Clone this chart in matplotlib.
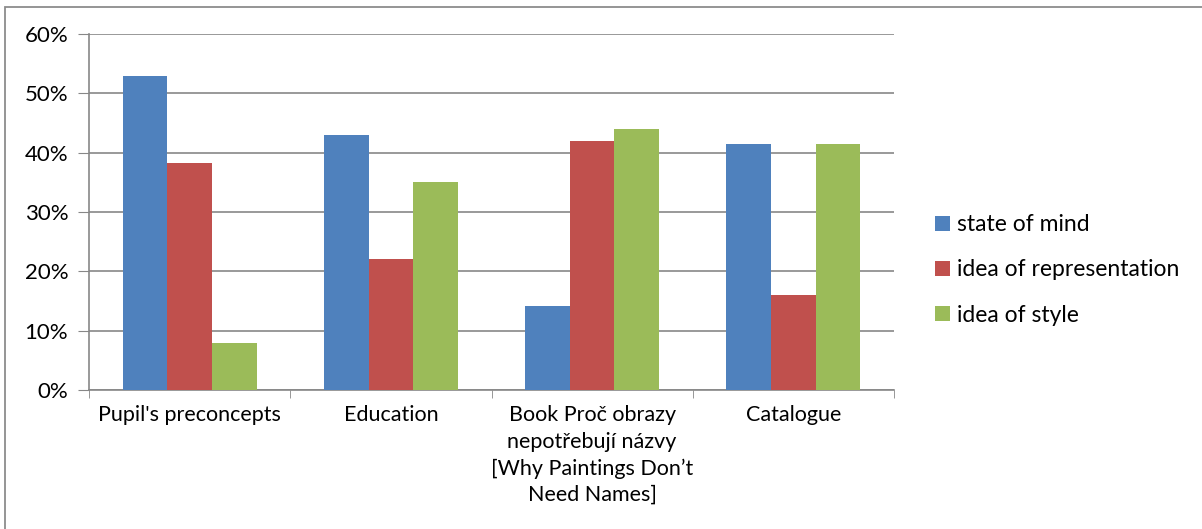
import numpy as np
import matplotlib
matplotlib.use("Agg")
import matplotlib.pyplot as plt
from matplotlib.patches import Rectangle
from matplotlib.ticker import FixedLocator, PercentFormatter

categories = [
    "Pupil's preconcepts",
    "Education",
    "Book Proč obrazy\nnepotřebují názvy\n[Why Paintings Don\u2019t\nNeed Names]",
    "Catalogue",
]
state_of_mind = [53.0, 43.0, 14.1, 41.4]
idea_of_representation = [38.2, 22.1, 42.0, 16.0]
idea_of_style = [8.0, 35.0, 44.0, 41.4]
series_names = ["state of mind", "idea of representation", "idea of style"]
colors = ["#4F81BD", "#C0504D", "#9BBB59"]

plt.rcParams["font.family"] = ["Lato", "DejaVu Sans"]

W, H = 1202, 529
fig = plt.figure(figsize=(W / 100, H / 100), dpi=100)

# outer chart border (only left and top edges visible)
fig.patches.append(Rectangle((5 / W, -0.1), 1.2, 1 - 7 / H + 0.1,
                             transform=fig.transFigure, fill=False,
                             edgecolor="#8c8c8c", linewidth=1.3))

ax = fig.add_axes([89 / W, 1 - 390 / H, (894 - 89) / W, (390 - 34) / H])

x = np.arange(len(categories))
width = 1 / 4.5
series = [state_of_mind, idea_of_representation, idea_of_style]
for i, (vals, name, c) in enumerate(zip(series, series_names, colors)):
    ax.bar(x + (i - 1) * width, vals, width, color=c, label=name,
           edgecolor="none", zorder=3)

ax.set_xlim(-0.5, len(categories) - 0.5)
ax.set_ylim(0, 60)
ax.set_yticks(np.arange(0, 61, 10))
ax.yaxis.set_major_formatter(PercentFormatter(decimals=0))
ax.yaxis.grid(True, color="#878787", linewidth=1.2, zorder=0)

ax.set_xticks(x)
ax.set_xticklabels(categories, fontsize=15.5, linespacing=1.4)
ax.xaxis.set_minor_locator(FixedLocator(np.arange(-0.5, len(categories), 1)))
ax.tick_params(axis="x", which="major", length=0, pad=11)
ax.tick_params(axis="x", which="minor", length=6, color="#878787", direction="out")
ax.tick_params(axis="y", length=8, color="#878787", labelsize=16, pad=7)

for side in ["top", "right"]:
    ax.spines[side].set_visible(False)
for side in ["left", "bottom"]:
    ax.spines[side].set_color("#878787")
    ax.spines[side].set_linewidth(1.2)

ax.legend(loc="center left", bbox_to_anchor=(935 / W, 1 - 270 / H),
          bbox_transform=fig.transFigure, frameon=False, fontsize=16.5,
          handlelength=0.65, handleheight=0.65, handletextpad=0.3,
          labelspacing=1.05, borderaxespad=0, borderpad=0)

fig.savefig("out.png", dpi=100)
